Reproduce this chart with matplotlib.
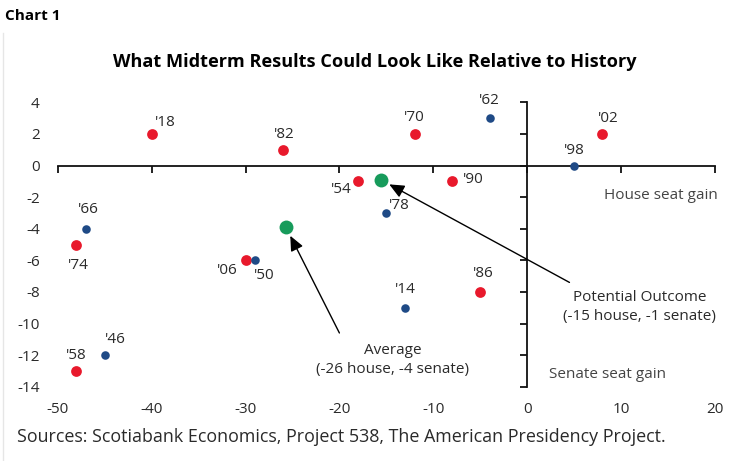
import matplotlib
matplotlib.use("Agg")
import matplotlib.pyplot as plt
from matplotlib.lines import Line2D

plt.rcParams['font.family'] = ['Open Sans', 'DejaVu Sans']
plt.rcParams['axes.unicode_minus'] = False

# ---- data ----
red_years = ["'18", "'82", "'70", "'02", "'54", "'90", "'74", "'06", "'86", "'58"]
red_house = [-40, -26, -12, 8, -18, -8, -48, -30, -5, -48]
red_senate = [2, 1, 2, 2, -1, -1, -5, -6, -8, -13]

blue_years = ["'62", "'98", "'66", "'50", "'78", "'14", "'46"]
blue_house = [-4, 5, -47, -29, -15, -13, -45]
blue_senate = [3, 0, -4, -6, -3, -9, -12]

green_names = ["Potential Outcome\n(-15 house, -1 senate)", "Average\n(-26 house, -4 senate)"]
green_house = [-15.6, -25.7]
green_senate = [-0.9, -3.9]

x_ticks = [-50, -40, -30, -20, -10, 0, 10, 20]
y_ticks = [4, 2, 0, -2, -4, -6, -8, -10, -12, -14]

# label offsets in points (layout)
red_off = [(10, 8), (1, 11), (0, 12), (4, 11), (-12, -6), (15, 1), (1, -15), (-13, -7), (2, 13), (0, 11)]
blue_off = [(0, 13), (0, 11), (2, 14), (7, -11), (9, 5), (0, 13), (8, 11)]

RED = "#E8192C"
BLUE = "#1F4A86"
GREEN = "#179B5B"
TXT = "#2a2a2a"
FS = 11

fig = plt.figure(figsize=(7.5, 4.61), dpi=100)
W, H = 750, 461
left, right = 57.7, 715.0
top, bottom = 102.3, 386.7
rect = [left / W, (H - bottom) / H, (right - left) / W, (bottom - top) / H]

# main axes: spines through the origin
ax = fig.add_axes(rect)
ax.set_xlim(-50, 20)
ax.set_ylim(-14, 4)
ax.set_xticks(x_ticks)
ax.set_yticks(y_ticks)
for s in ['top', 'right']:
    ax.spines[s].set_visible(False)
ax.spines['left'].set_position(('data', 0))
ax.spines['bottom'].set_position(('data', 0))
for s in ['left', 'bottom']:
    ax.spines[s].set_linewidth(1.3)
    ax.spines[s].set_color('#111111')
ax.tick_params(axis='both', direction='out', length=5, width=1.3, color='#111111',
               labelleft=False, labelbottom=False)
ax.patch.set_visible(False)

# label axes: tick labels at the outer edges
ax2 = fig.add_axes(rect, sharex=ax, sharey=ax)
for s in ax2.spines.values():
    s.set_visible(False)
ax2.tick_params(axis='both', length=0, labelsize=FS, labelcolor=TXT)
ax2.tick_params(axis='y', pad=13)
ax2.tick_params(axis='x', pad=11)
ax2.patch.set_visible(False)

ax.scatter(red_house, red_senate, s=60, color=RED, zorder=3, linewidths=0)
ax.scatter(blue_house, blue_senate, s=38, color=BLUE, zorder=3, linewidths=0)
ax.scatter(green_house, green_senate, s=100, color=GREEN, zorder=3, linewidths=0)

for yr, x, y, off in zip(red_years, red_house, red_senate, red_off):
    ax.annotate(yr, (x, y), xytext=off, textcoords='offset points',
                ha='center', va='center', fontsize=FS, color=TXT)
for yr, x, y, off in zip(blue_years, blue_house, blue_senate, blue_off):
    ax.annotate(yr, (x, y), xytext=off, textcoords='offset points',
                ha='center', va='center', fontsize=FS, color=TXT)

# arrows to green points
arrowprops = dict(arrowstyle='-|>,head_length=0.9,head_width=0.4', color='black', lw=1.0,
                  shrinkA=0, shrinkB=7)
ax.annotate('', xy=(green_house[0], green_senate[0]), xytext=(4.5, -7.4),
            arrowprops=arrowprops)
ax.annotate('', xy=(green_house[1], green_senate[1]), xytext=(-20.0, -10.6),
            arrowprops=arrowprops)
ax.text(12.0, -8.95, green_names[0], ha='center', va='center', fontsize=FS,
        color=TXT, linespacing=1.35)
ax.text(-14.3, -12.3, green_names[1], ha='center', va='center', fontsize=FS,
        color=TXT, linespacing=1.35)

ax.text(14.2, -1.9, "House seat gain", ha='center', va='center', fontsize=FS, color='#444444')
ax.text(8.5, -13.2, "Senate seat gain", ha='center', va='center', fontsize=FS, color='#444444')

fig.text(5 / W, 1 - 16 / H, "Chart 1", ha='left', va='center', fontsize=11,
         fontweight='bold', color='black')
fig.text(375 / W, 1 - 62 / H, "What Midterm Results Could Look Like Relative to History",
         ha='center', va='center', fontsize=13.1, fontweight='bold', color='black')
fig.text(17 / W, 1 - 437 / H,
         "Sources: Scotiabank Economics, Project 538, The American Presidency Project.",
         ha='left', va='center', fontsize=12.9, color=TXT)

fig.add_artist(Line2D([2.5 / W, 2.5 / W], [0, 1 - 33 / H], transform=fig.transFigure,
                      color='#e6e6e6', lw=1))

fig.savefig("out.png", dpi=100)
